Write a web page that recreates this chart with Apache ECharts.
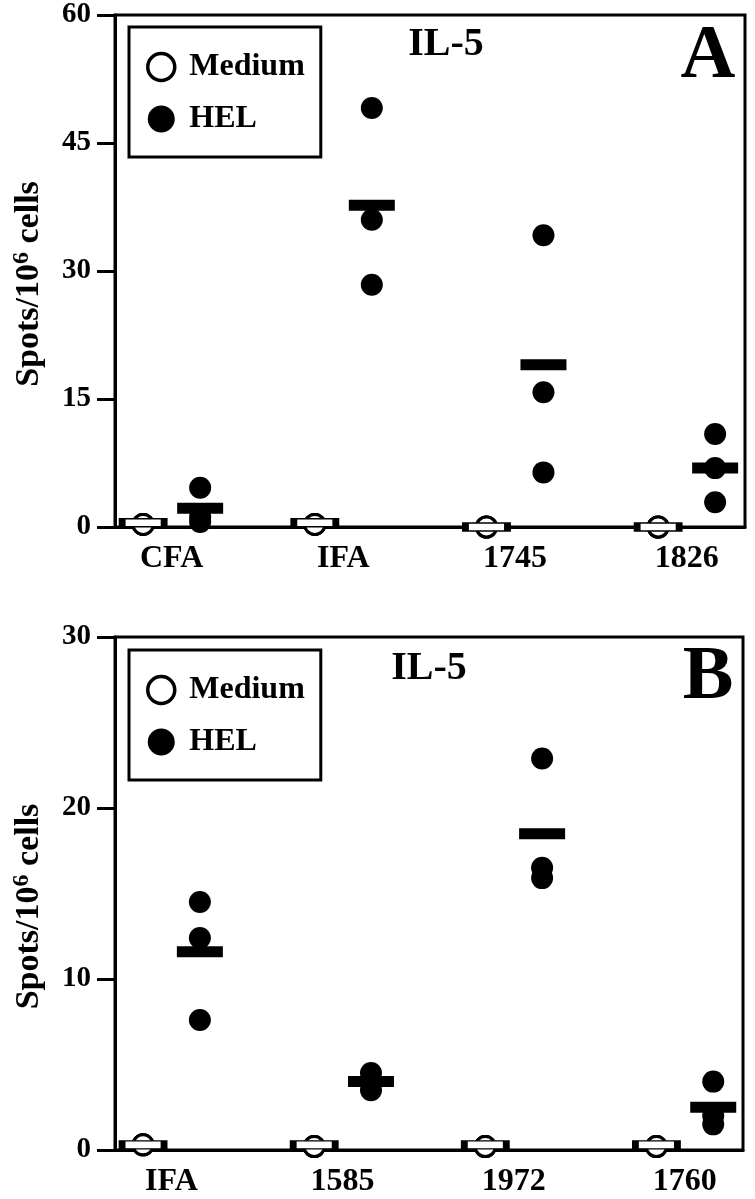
<!DOCTYPE html>
<html>
<head>
<meta charset="utf-8">
<script src="https://cdn.jsdelivr.net/npm/echarts@6/dist/echarts.min.js"></script>
<style>
html,body{margin:0;padding:0;background:#fff;}
#chart{width:755px;height:1199px;}
</style>
</head>
<body>
<div id="chart"></div>
<script>
// Panel A data
const categoriesA = ['CFA', 'IFA', '1745', '1826'];
const mediumA = [[0.3, 0.3, 0.3], [0.3, 0.3, 0.3], [0, 0, 0], [0, 0, 0]];
const helA = [[4.6, 1.2, 0.6], [49.1, 36.0, 28.4], [34.2, 15.8, 6.4], [10.9, 6.9, 2.9]];
const mediumMeanA = [0.5, 0.5, 0, 0];
const helMeanA = [2.2, 37.7, 19.0, 6.9];
const yTicksA = [0, 15, 30, 45, 60];

// Panel B data
const categoriesB = ['IFA', '1585', '1972', '1760'];
const mediumB = [[0.3, 0.3, 0.3], [0.2, 0.2, 0.2], [0.2, 0.2, 0.2], [0.2, 0.2, 0.2]];
const helB = [[14.5, 12.4, 7.6], [4.5, 4.0, 3.5], [22.9, 16.5, 15.9], [4.0, 2.0, 1.5]];
const mediumMeanB = [0.3, 0.3, 0.3, 0.3];
const helMeanB = [11.6, 4.0, 18.5, 2.5];
const yTicksB = [0, 10, 20, 30];

const panelLetters = ['A', 'B'];
const panelTitle = 'IL-5';
const seriesNames = ['Medium', 'HEL'];

const FONT = '"Liberation Serif", "DejaVu Serif", serif';
const OFF = 0.166;

function pts(groups, offset) {
  const out = [];
  groups.forEach((g, i) => g.forEach(v => out.push([i + offset, v])));
  return out;
}
function meanPts(arr, offset) {
  return arr.map((v, i) => [i + offset, v]);
}

function panelSeries(idx, med, hel, medMean, helMean) {
  return [
    {
      name: seriesNames[0], type: 'scatter', xAxisIndex: idx, yAxisIndex: idx,
      data: pts(med, -OFF), symbol: 'circle', symbolSize: 20, clip: false, z: 3,
      itemStyle: { color: '#fff', borderColor: '#000', borderWidth: 3, opacity: 1 }
    },
    {
      name: seriesNames[1], type: 'scatter', xAxisIndex: idx, yAxisIndex: idx,
      data: pts(hel, OFF), symbol: 'circle', symbolSize: 22, clip: false, z: 3,
      itemStyle: { color: '#000', opacity: 1 }
    },
    {
      name: 'mean-' + seriesNames[0], type: 'scatter', xAxisIndex: idx, yAxisIndex: idx,
      data: meanPts(medMean, -OFF), symbol: 'rect', symbolSize: [42, 8], clip: false, z: 4,
      itemStyle: { color: '#fff', borderColor: '#000', borderWidth: 3, opacity: 1 }
    },
    {
      name: 'mean-' + seriesNames[1], type: 'scatter', xAxisIndex: idx, yAxisIndex: idx,
      data: meanPts(helMean, OFF), symbol: 'rect', symbolSize: [46, 11], clip: false, z: 4,
      itemStyle: { color: '#000', opacity: 1 }
    }
  ];
}

function xAxisFor(idx, cats) {
  return {
    type: 'value', gridIndex: idx, min: -0.33, max: 3.34,
    axisLine: { show: true, onZero: false, lineStyle: { color: '#000', width: 3 } },
    axisTick: { show: false },
    splitLine: { show: false },
    axisLabel: {
      customValues: [0, 1, 2, 3],
      formatter: v => cats[Math.round(v)],
      color: '#000', fontFamily: FONT, fontWeight: 'bold', fontSize: 32, margin: 16
    }
  };
}
function yAxisFor(idx, ticks) {
  return {
    type: 'value', gridIndex: idx, min: ticks[0], max: ticks[ticks.length - 1],
    interval: ticks[1] - ticks[0],
    name: 'Spots/10{sup|6} cells',
    nameLocation: 'middle', nameRotate: 90, nameGap: 67,
    nameTextStyle: {
      color: '#000', fontFamily: FONT, fontWeight: 'bold', fontSize: 34, lineHeight: 38,
      padding: [0, 26, 0, 0],
      rich: { sup: { fontFamily: FONT, fontWeight: 'bold', fontSize: 24, verticalAlign: 'top', lineHeight: 38, color: '#000' } }
    },
    axisLine: { show: true, onZero: false, lineStyle: { color: '#000', width: 3 } },
    axisTick: { show: true, inside: false, length: 18, lineStyle: { color: '#000', width: 3 } },
    splitLine: { show: false },
    axisLabel: { color: '#000', fontFamily: FONT, fontWeight: 'bold', fontSize: 29, margin: 24 }
  };
}

function legendFor(top) {
  return {
    orient: 'vertical', left: 129, top: top,
    padding: [24, 16, 22, 17], itemGap: 20, itemWidth: 46, itemHeight: 27,
    borderColor: '#000', borderWidth: 3, backgroundColor: '#fff',
    textStyle: { color: '#000', fontFamily: FONT, fontWeight: 'bold', fontSize: 32, lineHeight: 30 },
    data: [
      { name: seriesNames[0], icon: 'circle', itemStyle: { color: '#fff', borderColor: '#000', borderWidth: 3.5 } },
      { name: seriesNames[1], icon: 'circle', itemStyle: { color: '#000', borderWidth: 0 } }
    ],
    selectedMode: false
  };
}

function txt(text, x, y, size) {
  return {
    type: 'text', x: x, y: y, z: 10,
    style: { text: text, fill: '#000', fontFamily: FONT, fontWeight: 'bold', fontSize: size, align: 'center', verticalAlign: 'middle' }
  };
}

const chart = echarts.init(document.getElementById('chart'), null, { renderer: 'canvas' });
chart.setOption({
  backgroundColor: '#fff',
  animation: false,
  grid: [
    { left: 115, top: 15, right: 10, height: 512, show: true, borderColor: '#000', borderWidth: 3, backgroundColor: 'transparent' },
    { left: 115, top: 637, right: 12, height: 513, show: true, borderColor: '#000', borderWidth: 3, backgroundColor: 'transparent' }
  ],
  xAxis: [xAxisFor(0, categoriesA), xAxisFor(1, categoriesB)],
  yAxis: [yAxisFor(0, yTicksA), yAxisFor(1, yTicksB)],
  legend: [legendFor(27), legendFor(650)],
  graphic: [
    txt(panelTitle, 446, 45, 40),
    txt(panelLetters[0], 708, 57, 76),
    txt(panelTitle, 429, 669, 40),
    txt(panelLetters[1], 708, 678, 76)
  ],
  series: [].concat(
    panelSeries(0, mediumA, helA, mediumMeanA, helMeanA),
    panelSeries(1, mediumB, helB, mediumMeanB, helMeanB)
  )
});
</script>
</body>
</html>
